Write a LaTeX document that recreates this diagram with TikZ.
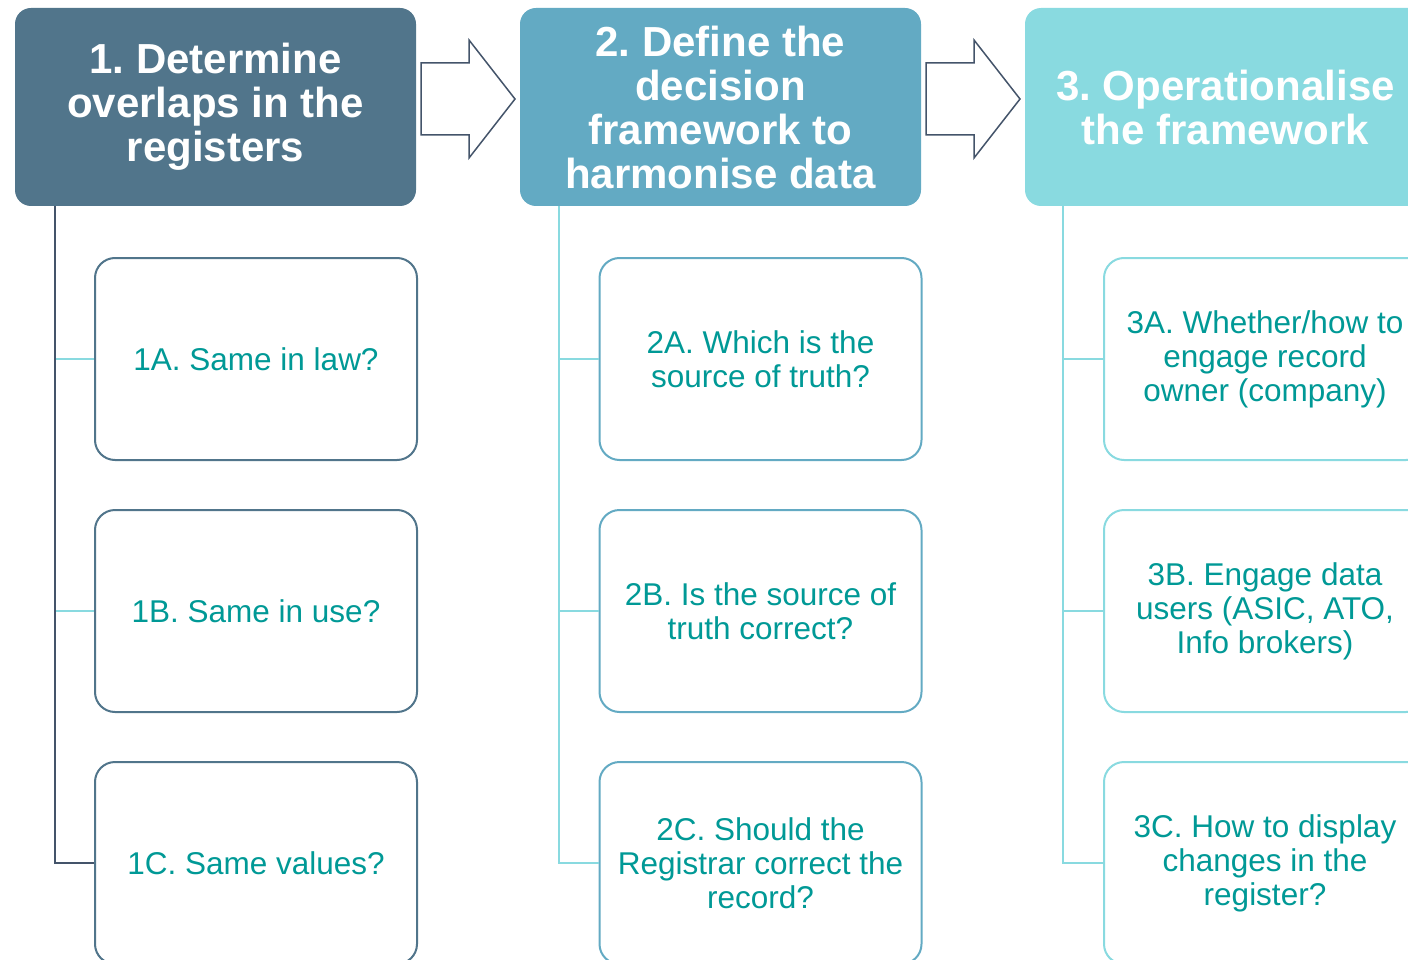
\documentclass[tikz,border=0pt]{standalone}
\usepackage{fontspec}
\setmainfont{Liberation Sans}
\usetikzlibrary{calc, positioning}
\definecolor{stepOne}{RGB}{81,117,139}
\definecolor{stepTwo}{RGB}{99,170,195}
\definecolor{stepThree}{RGB}{137,218,224}
\definecolor{mainTeal}{RGB}{0,153,150}
\definecolor{arrowGray}{RGB}{68,84,106}
\frenchspacing

\begin{document}
\begin{tikzpicture}[x=1pt, y=-1pt,
    head/.style={rectangle, rounded corners=16pt, minimum width=401pt, minimum height=198pt, text=white, align=center, font=\fontsize{42}{44}\selectfont\bfseries},
    task/.style={rectangle, rounded corners=20pt, draw, line width=2pt, fill=white, minimum width=322pt, minimum height=202pt, text=mainTeal, align=center, font=\fontsize{31.5}{34}\selectfont},
    tie/.style={line width=2.2pt},
    blockarrow/.style={draw=arrowGray, line width=1.5pt, fill=white, line join=miter}]
    \clip (0,0) rectangle (1408,960);

    % Step headers
    \node[head, fill=stepOne] (h1) at (215.5,107) {1. Determine\\overlaps in the\\registers};
    \node[head, fill=stepTwo] (h2) at (720.5,107) {2. Define the\\decision\\framework to\\harmonise data};
    \node[head, fill=stepThree] (h3) at (1225.5,107) {3. Operationalise\\the framework};

    % Hollow arrows between the headers
    \foreach \a/\b in {h1/h2, h2/h3} {
        \coordinate (m) at ($(\a.east)!0.5!(\b.west)+(0,-8)$);
        \draw[blockarrow] ($(m)+(-47,-36)$) -- ($(m)+(1,-36)$) -- ($(m)+(1,-59)$) -- ($(m)+(47,0)$)
            -- ($(m)+(1,59)$) -- ($(m)+(1,36)$) -- ($(m)+(-47,36)$) -- cycle;
    }

    % Column 1
    \node[task, draw=stepOne] (a1) at (256,359) {1A. Same in law?};
    \node[task, draw=stepOne, below=48pt of a1] (b1) {1B. Same in use?};
    \node[task, draw=stepOne, below=48pt of b1] (c1) {1C. Same values?};

    % Column 2
    \node[task, draw=stepTwo] (a2) at (760.5,359) {2A. Which is the\\source of truth?};
    \node[task, draw=stepTwo, below=48pt of a2] (b2) {2B. Is the source of\\truth correct?};
    \node[task, draw=stepTwo, below=48pt of b2] (c2) {2C. Should the\\Registrar correct the\\record?};

    % Column 3
    \node[task, draw=stepThree] (a3) at (1265,359) {3A. Whether/how to\\engage record\\owner (company)};
    \node[task, draw=stepThree, below=48pt of a3] (b3) {3B. Engage data\\users (ASIC, ATO,\\Info brokers)};
    \node[task, draw=stepThree, below=48pt of b3] (c3) {3C. How to display\\changes in the\\register?};

    % Trunks and ties
    \coordinate (t1) at ($(h1.south west)+(40,0)$);
    \coordinate (t2) at ($(h2.south west)+(39,0)$);
    \coordinate (t3) at ($(h3.south west)+(38,0)$);
    \draw[tie, stepThree] (t1 |- a1.west) -- (a1.west);
    \draw[tie, stepThree] (t1 |- b1.west) -- (b1.west);
    \draw[tie, arrowGray] (t1) |- (c1.west);
    \foreach \c in {2,3} {
        \draw[tie, stepThree] (t\c |- a\c.west) -- (a\c.west);
        \draw[tie, stepThree] (t\c |- b\c.west) -- (b\c.west);
        \draw[tie, stepThree] (t\c) |- (c\c.west);
    }
\end{tikzpicture}
\end{document}
